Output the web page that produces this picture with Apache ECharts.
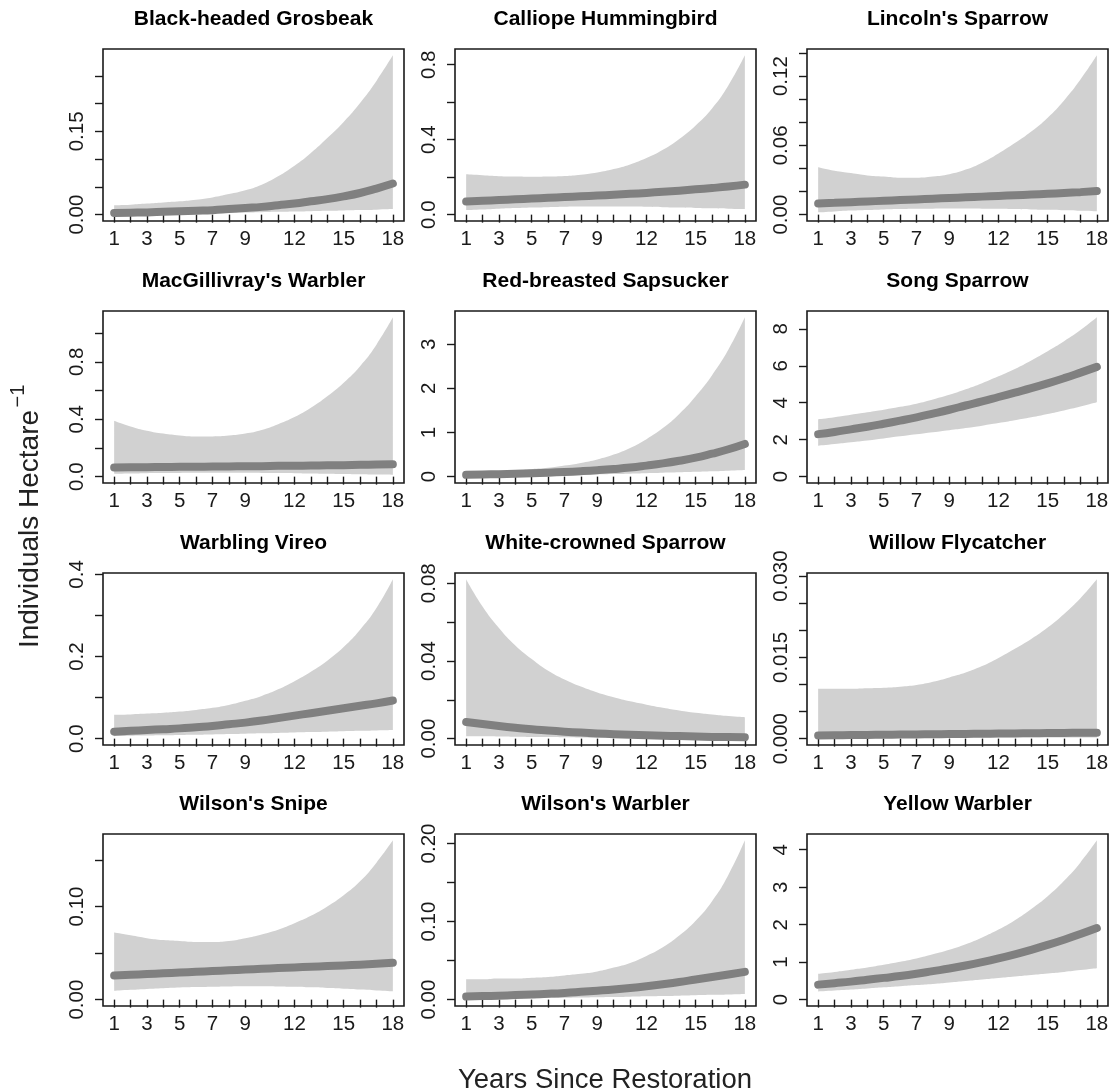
<!DOCTYPE html>
<html lang="en">
<head>
    <meta charset="UTF-8">
    <title>Individuals per hectare by years since restoration</title>
    <style>
        html, body { margin: 0; padding: 0; background: #fff; }
        #chart-box { width: 1113px; height: 1092px; }
    </style>
</head>
<body>
    <div id="chart-box"></div>

    <script src="https://cdn.jsdelivr.net/npm/echarts@6/dist/echarts.min.js"></script>
    <script>
        // x axis: years since restoration, ticks every year, labels where R kept them
        const years = [1, 2, 3, 4, 5, 6, 7, 8, 9, 10, 11, 12, 13, 14, 15, 16, 17, 18];
        const xLabelYears = [1, 3, 5, 7, 9, 12, 15, 18];

        // Black-headed Grosbeak
        const grosbeakLo = [0.001, 0.0013, 0.0016, 0.0019, 0.0022, 0.0026, 0.003, 0.0035, 0.004, 0.0045, 0.005, 0.0056, 0.0062, 0.0068, 0.0075, 0.0082, 0.009, 0.010];
        const grosbeakFit = [0.003, 0.0035, 0.004, 0.005, 0.006, 0.007, 0.008, 0.010, 0.012, 0.014, 0.017, 0.020, 0.024, 0.028, 0.033, 0.039, 0.047, 0.056];
        const grosbeakHi = [0.017, 0.018, 0.020, 0.022, 0.024, 0.027, 0.031, 0.037, 0.044, 0.054, 0.069, 0.088, 0.111, 0.138, 0.167, 0.201, 0.241, 0.287];
        const grosbeakTicks = [0, 0.05, 0.10, 0.15, 0.20, 0.25];
        const grosbeakLabels = ['0.00', '0.15'];

        // Calliope Hummingbird
        const calliopeLo = [0.025, 0.028, 0.032, 0.035, 0.038, 0.040, 0.042, 0.043, 0.044, 0.044, 0.043, 0.042, 0.040, 0.038, 0.036, 0.034, 0.032, 0.030];
        const calliopeFit = [0.070, 0.074, 0.078, 0.082, 0.086, 0.090, 0.094, 0.098, 0.102, 0.106, 0.111, 0.116, 0.122, 0.128, 0.135, 0.142, 0.150, 0.160];
        const calliopeHi = [0.215, 0.210, 0.205, 0.203, 0.202, 0.203, 0.206, 0.213, 0.225, 0.243, 0.268, 0.302, 0.346, 0.404, 0.476, 0.566, 0.690, 0.850];
        const calliopeTicks = [0, 0.2, 0.4, 0.6, 0.8];
        const calliopeLabels = ['0.0', '0.4', '0.8'];

        // Lincoln's Sparrow
        const lincolnLo = [0.002, 0.0028, 0.0035, 0.004, 0.0045, 0.0048, 0.005, 0.0052, 0.0053, 0.0053, 0.0052, 0.005, 0.0048, 0.0045, 0.0042, 0.0038, 0.0034, 0.003];
        const lincolnFit = [0.0096, 0.0102, 0.0108, 0.0114, 0.0120, 0.0126, 0.0132, 0.0138, 0.0144, 0.0150, 0.0156, 0.0162, 0.0168, 0.0174, 0.0180, 0.0187, 0.0195, 0.0204];
        const lincolnHi = [0.041, 0.038, 0.036, 0.034, 0.033, 0.032, 0.032, 0.033, 0.035, 0.039, 0.045, 0.053, 0.062, 0.072, 0.084, 0.099, 0.117, 0.138];
        const lincolnTicks = [0, 0.02, 0.04, 0.06, 0.08, 0.10, 0.12, 0.14];
        const lincolnLabels = ['0.00', '0.06', '0.12'];

        // MacGillivray's Warbler
        const macgillivrayLo = [0.020, 0.022, 0.024, 0.025, 0.026, 0.027, 0.027, 0.027, 0.027, 0.026, 0.025, 0.024, 0.022, 0.020, 0.018, 0.016, 0.014, 0.012];
        const macgillivrayFit = [0.064, 0.065, 0.066, 0.067, 0.068, 0.069, 0.070, 0.071, 0.072, 0.073, 0.075, 0.076, 0.077, 0.079, 0.080, 0.082, 0.084, 0.086];
        const macgillivrayHi = [0.39, 0.35, 0.32, 0.30, 0.287, 0.28, 0.28, 0.286, 0.30, 0.325, 0.365, 0.415, 0.48, 0.56, 0.655, 0.77, 0.92, 1.11];
        const macgillivrayTicks = [0, 0.2, 0.4, 0.6, 0.8, 1.0];
        const macgillivrayLabels = ['0.0', '0.4', '0.8'];

        // Red-breasted Sapsucker
        const sapsuckerLo = [0.015, 0.018, 0.021, 0.025, 0.029, 0.034, 0.040, 0.046, 0.053, 0.060, 0.068, 0.077, 0.087, 0.097, 0.108, 0.120, 0.134, 0.150];
        const sapsuckerFit = [0.040, 0.048, 0.056, 0.066, 0.078, 0.090, 0.105, 0.123, 0.145, 0.172, 0.205, 0.25, 0.30, 0.36, 0.43, 0.52, 0.62, 0.74];
        const sapsuckerHi = [0.09, 0.10, 0.12, 0.14, 0.17, 0.20, 0.25, 0.31, 0.39, 0.50, 0.65, 0.85, 1.10, 1.42, 1.82, 2.30, 2.88, 3.61];
        const sapsuckerTicks = [0, 1, 2, 3];
        const sapsuckerLabels = ['0', '1', '2', '3'];

        // Song Sparrow
        const songLo = [1.67, 1.76, 1.86, 1.96, 2.07, 2.18, 2.29, 2.40, 2.51, 2.63, 2.76, 2.90, 3.05, 3.21, 3.39, 3.58, 3.79, 4.02];
        const songFit = [2.30, 2.42, 2.56, 2.70, 2.86, 3.03, 3.21, 3.41, 3.62, 3.85, 4.07, 4.31, 4.55, 4.79, 5.05, 5.33, 5.63, 5.94];
        const songHi = [3.11, 3.22, 3.35, 3.48, 3.62, 3.78, 3.95, 4.18, 4.43, 4.73, 5.06, 5.43, 5.83, 6.29, 6.79, 7.33, 7.93, 8.62];
        const songTicks = [0, 2, 4, 6, 8];
        const songLabels = ['0', '2', '4', '6', '8'];

        // Warbling Vireo
        const vireoLo = [0.006, 0.007, 0.0075, 0.008, 0.009, 0.0095, 0.010, 0.011, 0.012, 0.013, 0.014, 0.015, 0.016, 0.017, 0.018, 0.019, 0.020, 0.021];
        const vireoFit = [0.017, 0.019, 0.021, 0.023, 0.025, 0.028, 0.031, 0.035, 0.039, 0.044, 0.050, 0.056, 0.062, 0.068, 0.074, 0.080, 0.086, 0.093];
        const vireoHi = [0.058, 0.059, 0.061, 0.063, 0.066, 0.070, 0.075, 0.082, 0.092, 0.104, 0.120, 0.140, 0.163, 0.190, 0.223, 0.265, 0.318, 0.388];
        const vireoTicks = [0, 0.1, 0.2, 0.3, 0.4];
        const vireoLabels = ['0.0', '0.2', '0.4'];

        // White-crowned Sparrow
        const whiteCrownLo = [0.0012, 0.0012, 0.0011, 0.0010, 0.0009, 0.0008, 0.0007, 0.0006, 0.0005, 0.0005, 0.0004, 0.0004, 0.0003, 0.0003, 0.0003, 0.0002, 0.0002, 0.0002];
        const whiteCrownFit = [0.0086, 0.0075, 0.0065, 0.0056, 0.0048, 0.0042, 0.0036, 0.0031, 0.0027, 0.0023, 0.0020, 0.0017, 0.0015, 0.0013, 0.0011, 0.0009, 0.0008, 0.0007];
        const whiteCrownHi = [0.082, 0.068, 0.057, 0.048, 0.041, 0.035, 0.0305, 0.0268, 0.0238, 0.0213, 0.0192, 0.0175, 0.0159, 0.0145, 0.0133, 0.0124, 0.0116, 0.0110];
        const whiteCrownTicks = [0, 0.02, 0.04, 0.06, 0.08];
        const whiteCrownLabels = ['0.00', '0.04', '0.08'];

        // Willow Flycatcher
        const willowLo = [0.0002, 0.00022, 0.00024, 0.00025, 0.00026, 0.00027, 0.00028, 0.00028, 0.00028, 0.00028, 0.00027, 0.00026, 0.00025, 0.00024, 0.00023, 0.00022, 0.00021, 0.0002];
        const willowFit = [0.0006, 0.00063, 0.00066, 0.00069, 0.00072, 0.00075, 0.00078, 0.00081, 0.00084, 0.00087, 0.0009, 0.00093, 0.00096, 0.00099, 0.00102, 0.00105, 0.00108, 0.0011];
        const willowHi = [0.0092, 0.0092, 0.0092, 0.0093, 0.0094, 0.0096, 0.0099, 0.0105, 0.0113, 0.0122, 0.0134, 0.0149, 0.0166, 0.0184, 0.0205, 0.0230, 0.0259, 0.0294];
        const willowTicks = [0, 0.005, 0.010, 0.015, 0.020, 0.025, 0.030];
        const willowLabels = ['0.000', '0.015', '0.030'];

        // Wilson's Snipe
        const snipeLo = [0.0094, 0.0105, 0.0115, 0.0123, 0.013, 0.0135, 0.0139, 0.0142, 0.0144, 0.0144, 0.0142, 0.0138, 0.0132, 0.0125, 0.0117, 0.0108, 0.0099, 0.009];
        const snipeFit = [0.0259, 0.0267, 0.0275, 0.0283, 0.0291, 0.0299, 0.0307, 0.0315, 0.0323, 0.0331, 0.0339, 0.0346, 0.0353, 0.0360, 0.0367, 0.0375, 0.0385, 0.0396];
        const snipeHi = [0.072, 0.069, 0.066, 0.064, 0.063, 0.062, 0.062, 0.063, 0.066, 0.070, 0.075, 0.082, 0.090, 0.100, 0.112, 0.127, 0.147, 0.171];
        const snipeTicks = [0, 0.05, 0.10, 0.15];
        const snipeLabels = ['0.00', '0.10'];

        // Wilson's Warbler
        const wilsonLo = [0.0010, 0.0012, 0.0014, 0.0016, 0.0019, 0.0021, 0.0024, 0.0027, 0.0031, 0.0034, 0.0038, 0.0042, 0.0046, 0.0051, 0.0056, 0.0061, 0.0067, 0.0073];
        const wilsonFit = [0.0039, 0.0045, 0.0051, 0.0058, 0.0066, 0.0075, 0.0086, 0.0100, 0.0115, 0.0131, 0.0150, 0.0172, 0.0197, 0.0225, 0.0258, 0.0290, 0.0322, 0.0356];
        const wilsonHi = [0.026, 0.026, 0.027, 0.027, 0.028, 0.029, 0.031, 0.033, 0.036, 0.041, 0.047, 0.056, 0.067, 0.082, 0.101, 0.126, 0.160, 0.204];
        const wilsonTicks = [0, 0.05, 0.10, 0.15, 0.20];
        const wilsonLabels = ['0.00', '0.10', '0.20'];

        // Yellow Warbler
        const yellowLo = [0.22, 0.245, 0.27, 0.30, 0.33, 0.36, 0.39, 0.42, 0.46, 0.50, 0.54, 0.58, 0.62, 0.66, 0.70, 0.74, 0.79, 0.84];
        const yellowFit = [0.40, 0.44, 0.48, 0.53, 0.58, 0.63, 0.69, 0.76, 0.83, 0.91, 1.00, 1.10, 1.21, 1.33, 1.46, 1.60, 1.75, 1.91];
        const yellowHi = [0.69, 0.74, 0.80, 0.86, 0.93, 1.01, 1.10, 1.21, 1.33, 1.48, 1.66, 1.87, 2.12, 2.42, 2.76, 3.17, 3.66, 4.25];
        const yellowTicks = [0, 1, 2, 3, 4];
        const yellowLabels = ['0', '1', '2', '3', '4'];

        const panels = [
            { name: 'Black-headed Grosbeak', lo: grosbeakLo, fit: grosbeakFit, hi: grosbeakHi, ticks: grosbeakTicks, labels: grosbeakLabels },
            { name: 'Calliope Hummingbird', lo: calliopeLo, fit: calliopeFit, hi: calliopeHi, ticks: calliopeTicks, labels: calliopeLabels },
            { name: "Lincoln's Sparrow", lo: lincolnLo, fit: lincolnFit, hi: lincolnHi, ticks: lincolnTicks, labels: lincolnLabels },
            { name: "MacGillivray's Warbler", lo: macgillivrayLo, fit: macgillivrayFit, hi: macgillivrayHi, ticks: macgillivrayTicks, labels: macgillivrayLabels },
            { name: 'Red-breasted Sapsucker', lo: sapsuckerLo, fit: sapsuckerFit, hi: sapsuckerHi, ticks: sapsuckerTicks, labels: sapsuckerLabels },
            { name: 'Song Sparrow', lo: songLo, fit: songFit, hi: songHi, ticks: songTicks, labels: songLabels },
            { name: 'Warbling Vireo', lo: vireoLo, fit: vireoFit, hi: vireoHi, ticks: vireoTicks, labels: vireoLabels },
            { name: 'White-crowned Sparrow', lo: whiteCrownLo, fit: whiteCrownFit, hi: whiteCrownHi, ticks: whiteCrownTicks, labels: whiteCrownLabels },
            { name: 'Willow Flycatcher', lo: willowLo, fit: willowFit, hi: willowHi, ticks: willowTicks, labels: willowLabels },
            { name: "Wilson's Snipe", lo: snipeLo, fit: snipeFit, hi: snipeHi, ticks: snipeTicks, labels: snipeLabels },
            { name: "Wilson's Warbler", lo: wilsonLo, fit: wilsonFit, hi: wilsonHi, ticks: wilsonTicks, labels: wilsonLabels },
            { name: 'Yellow Warbler', lo: yellowLo, fit: yellowFit, hi: yellowHi, ticks: yellowTicks, labels: yellowLabels }
        ];

        // layout of the 4 x 3 panel grid (pixels)
        const colLeft = [103, 455, 807];
        const rowTop = [49, 311, 573, 834];
        const boxW = 301, boxH = 172;

        const FONT = '"Liberation Sans", Arial, Helvetica, sans-serif';
        const INK = '#1a1a1a';

        const oChart = echarts.init(document.querySelector('#chart-box'));

        const grids = [], xAxes = [], yAxes = [], series = [], texts = [];

        panels.forEach((p, i) => {
            const left = colLeft[i % 3], top = rowTop[Math.floor(i / 3)];
            const ymax = Math.max(...p.hi);   // R: ylim = c(0, max(upper)), 4% padding

            grids.push({
                left: left, top: top, width: boxW, height: boxH,
                show: true, borderColor: INK, borderWidth: 1.6, backgroundColor: 'transparent'
            });

            xAxes.push({
                type: 'value', gridIndex: i,
                min: 0.32, max: 18.68,
                splitLine: { show: false },
                axisLine: { show: false },
                axisTick: { show: true, customValues: years, length: 8, lineStyle: { color: INK, width: 1.4 } },
                axisLabel: {
                    customValues: xLabelYears, margin: 8,
                    color: INK, fontSize: 20.5, fontFamily: FONT
                }
            });

            yAxes.push({
                type: 'value', gridIndex: i,
                min: -0.04 * ymax, max: 1.04 * ymax,
                splitLine: { show: false },
                axisLine: { show: false },
                axisTick: { show: true, customValues: p.ticks, length: 8, lineStyle: { color: INK, width: 1.4 } },
                axisLabel: {
                    customValues: p.labels.map(Number), rotate: 90, margin: 15,
                    color: INK, fontSize: 20.5, fontFamily: FONT,
                    formatter: (v) => p.labels.find(s => Math.abs(Number(s) - v) < 1e-9) || ''
                }
            });

            // data given as [y, x] so the stack runs on the y values
            const common = {
                type: 'line', xAxisIndex: i, yAxisIndex: i,
                encode: { x: 1, y: 0 },
                smooth: true, symbol: 'none', silent: true, animation: false
            };

            // confidence band: invisible lower bound, band width stacked on top of it
            series.push(Object.assign({}, common, {
                name: p.name + ' lower',
                stack: 'band' + i,
                data: years.map((x, k) => [p.lo[k], x]),
                lineStyle: { opacity: 0 },
                z: 2
            }));
            series.push(Object.assign({}, common, {
                name: p.name + ' band',
                stack: 'band' + i,
                data: years.map((x, k) => [p.hi[k] - p.lo[k], x]),
                lineStyle: { opacity: 0 },
                areaStyle: { color: '#d1d1d1', opacity: 1 },
                z: 2
            }));
            // fitted line
            series.push(Object.assign({}, common, {
                name: p.name,
                data: years.map((x, k) => [p.fit[k], x]),
                lineStyle: { color: '#808080', width: 8, cap: 'round', join: 'round' },
                z: 4
            }));

            texts.push({
                type: 'text', x: left + boxW / 2, y: top - 30,
                style: {
                    text: p.name, fill: '#000',
                    font: 'bold 21px ' + FONT,
                    align: 'center', verticalAlign: 'middle',
                    textAlign: 'center', textVerticalAlign: 'middle'
                }
            });
        });

        // shared axis titles
        texts.push({
            type: 'text', x: 605, y: 1080,
            style: {
                text: 'Years Since Restoration', fill: '#222', font: '27.5px ' + FONT,
                align: 'center', verticalAlign: 'middle', textAlign: 'center', textVerticalAlign: 'middle'
            }
        });
        texts.push({
            type: 'text', x: 30, y: 529, rotation: Math.PI / 2,
            style: {
                text: 'Individuals Hectare', fill: '#222', font: '28px ' + FONT,
                align: 'center', verticalAlign: 'middle', textAlign: 'center', textVerticalAlign: 'middle'
            }
        });
        texts.push({
            type: 'text', x: 18, y: 396, rotation: Math.PI / 2,
            style: {
                text: '\u22121', fill: '#222', font: '20px ' + FONT,
                align: 'center', verticalAlign: 'middle', textAlign: 'center', textVerticalAlign: 'middle'
            }
        });

        oChart.setOption({
            animation: false,
            backgroundColor: '#ffffff',
            grid: grids,
            xAxis: xAxes,
            yAxis: yAxes,
            series: series,
            graphic: { elements: texts }
        });
    </script>
</body>
</html>
